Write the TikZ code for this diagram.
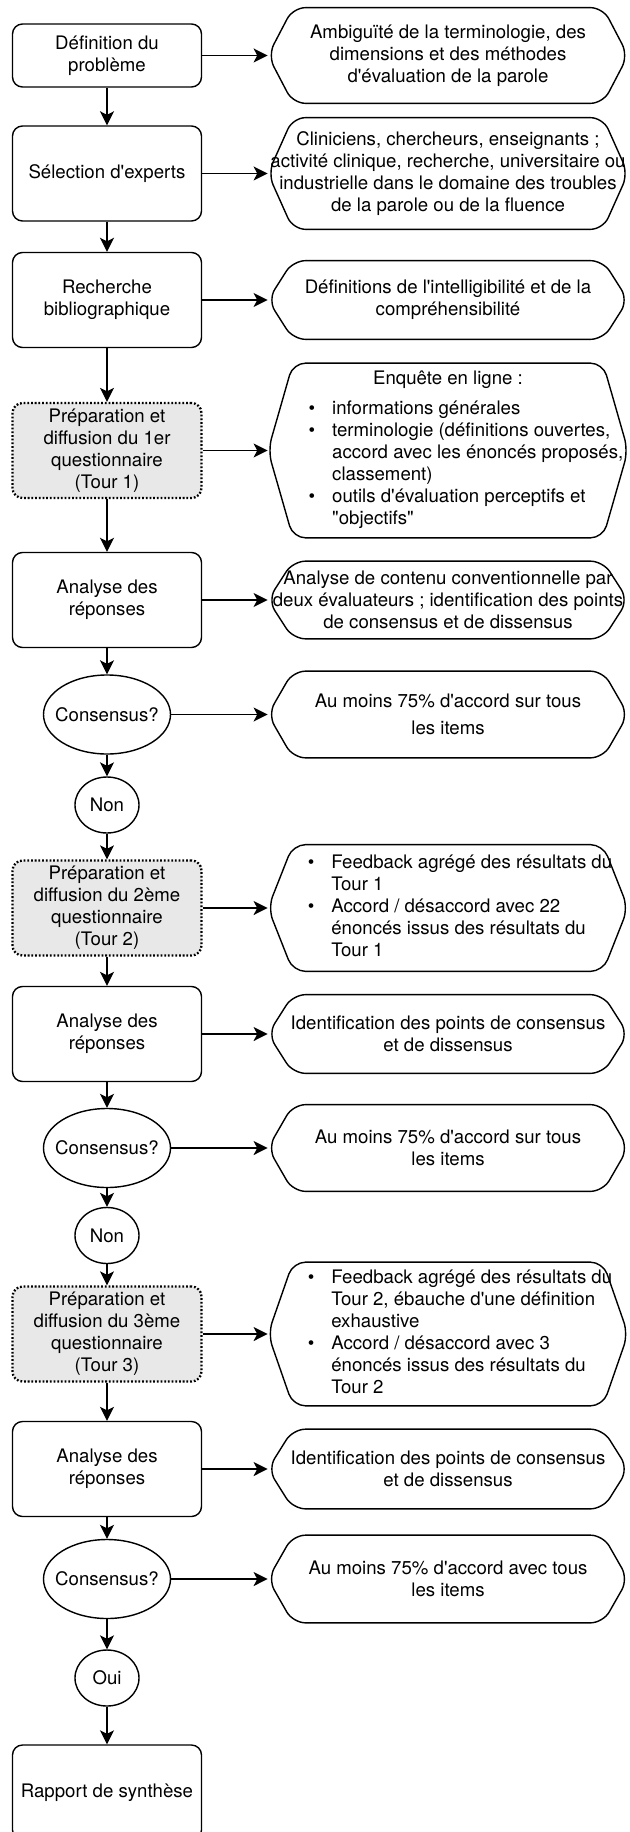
\documentclass[tikz,border=0pt]{standalone}
\usepackage{fontspec}
\setmainfont{TeX Gyre Heros}[Ligatures=TeXOff]
\usetikzlibrary{arrows.meta,shapes.geometric}
\newcommand{\mytxt}{\fontsize{10.6}{12.5}\selectfont}
\tikzset{
  box/.style={draw, rounded corners=0.2cm, align=center, minimum width=3.78cm, minimum height=1.9cm, inner sep=0pt, font=\mytxt, line width=0.8pt},
  kprep/.style={box, fill=black!9, line width=1.3pt, dash pattern=on 1pt off 1.1pt},
  kcheck/.style={ellipse, draw, minimum width=2.54cm, minimum height=1.58cm, inner xsep=-0.3cm, inner ysep=0pt, font=\mytxt, line width=0.8pt},
  kreply/.style={ellipse, draw, minimum width=1.28cm, minimum height=1.12cm, inner sep=0pt, font=\mytxt, line width=0.8pt},
  kinfo/.style={minimum width=7.2cm, inner sep=0pt, align=center, font=\mytxt},
  kframe/.style={draw, rounded corners=0.25cm, line width=0.8pt},
  flow/.style={-{Stealth[length=0.28cm,width=0.28cm,inset=0.07cm]}, line width=0.8pt},
}

\begin{document}
\begin{tikzpicture}
    \useasboundingbox (0,0) rectangle (12.58,-36.64);
    \clip (0,0) rectangle (12.58,-36.64);
    \node[box, minimum height=1.26cm] (d1) at (2.14,-1.11) {Définition du\\problème};
    \node[box] (d2) at (2.14,-3.47) {Sélection d'experts};
    \node[box] (d3) at (2.14,-6.00) {Recherche\\bibliographique};
    \node[kprep] (d4) at (2.14,-9.01) {Préparation et\\diffusion du 1er\\questionnaire\\(Tour 1)};
    \node[box] (d5) at (2.14,-12.00) {Analyse des\\réponses};
    \node[kcheck] (c1) at (2.14,-14.29) {Consensus?};
    \node[kreply] (n1) at (2.14,-16.10) {Non};
    \node[kprep] (d7) at (2.14,-18.16) {Préparation et\\diffusion du 2ème\\questionnaire\\(Tour 2)};
    \node[box] (d8) at (2.14,-20.68) {Analyse des\\réponses};
    \node[kcheck] (c2) at (2.14,-22.96) {Consensus?};
    \node[kreply] (n2) at (2.14,-24.71) {Non};
    \node[kprep] (d10) at (2.14,-26.68) {Préparation et\\diffusion du 3ème\\questionnaire\\(Tour 3)};
    \node[box] (d11) at (2.14,-29.38) {Analyse des\\réponses};
    \node[kcheck] (c3) at (2.14,-31.58) {Consensus?};
    \node[kreply] (o3) at (2.14,-33.56) {Oui};
    \node[box] (rap) at (2.14,-35.85) {Rapport de synthèse};

    \node[kinfo, minimum height=1.9cm] (r1) at (8.96,-1.11) {Ambiguïté de la terminologie, des\\dimensions et des méthodes\\d'évaluation de la parole};
    \node[kinfo, minimum height=2.22cm] (r2) at (8.96,-3.47) {Cliniciens, chercheurs, enseignants ;\\activité clinique, recherche, universitaire ou\\industrielle dans le domaine des troubles\\de la parole ou de la fluence};
    \node[kinfo, minimum height=1.56cm] (r3) at (8.96,-6.00) {Définitions de l'intelligibilité et de la\\compréhensibilité};
    \node[kinfo, minimum height=3.48cm] (r4) at (8.96,-9.01) {\begin{tabular}{@{\hspace{0.72cm}}c@{\hspace{0.34cm}}l@{}}
      \multicolumn{2}{c}{Enquête en ligne :}\\[0.16cm]
      • & informations générales\\
      • & terminologie (définitions ouvertes,\\
        & accord avec les énoncés proposés,\\
        & classement)\\
      • & outils d'évaluation perceptifs et\\
        & "objectifs"
    \end{tabular}};
    \node[kinfo, minimum height=1.54cm] (r5) at (8.96,-12.00) {Analyse de contenu conventionnelle par\\deux évaluateurs ; identification des points\\de consensus et de dissensus};
    \node[kinfo, minimum height=1.72cm] (r6) at (8.96,-14.29) {Au moins 75\% d'accord sur tous\\[0.09cm]les items};
    \node[kinfo, minimum height=2.52cm] (r7) at (8.96,-18.16) {\begin{tabular}{@{\hspace{0.48cm}}c@{\hspace{0.34cm}}l@{}}
      • & Feedback agrégé des résultats du\\
        & Tour 1\\
      • & Accord / désaccord avec 22\\
        & énoncés issus des résultats du\\
        & Tour 1
    \end{tabular}};
    \node[kinfo, minimum height=1.56cm] (r8) at (8.96,-20.68) {Identification des points de consensus\\et de dissensus};
    \node[kinfo, minimum height=1.72cm] (r9) at (8.96,-22.96) {Au moins 75\% d'accord sur tous\\les items};
    \node[kinfo, minimum height=2.86cm] (r10) at (8.96,-26.68) {\begin{tabular}{@{\hspace{0.48cm}}c@{\hspace{0.34cm}}l@{}}
      • & Feedback agrégé des résultats du\\
        & Tour 2, ébauche d'une définition\\
        & exhaustive\\
      • & Accord / désaccord avec 3\\
        & énoncés issus des résultats du\\
        & Tour 2
    \end{tabular}};
    \node[kinfo, minimum height=1.58cm] (r11) at (8.96,-29.38) {Identification des points de consensus\\et de dissensus};
    \node[kinfo, minimum height=1.74cm] (r12) at (8.96,-31.58) {Au moins 75\% d'accord avec tous\\les items};

    \foreach \i in {1,...,12}
      \draw[kframe] ([xshift=-3.1cm]r\i.north) -- ([xshift=3.1cm]r\i.north) -- ([xshift=3.6cm]r\i.center)
        -- ([xshift=3.1cm]r\i.south) -- ([xshift=-3.1cm]r\i.south) -- ([xshift=-3.6cm]r\i.center) -- cycle;

    \foreach \a/\b in {d1/d2,d2/d3,d3/d4,d4/d5,d5/c1,c1/n1,n1/d7,d7/d8,d8/c2,c2/n2,n2/d10,d10/d11,d11/c3,c3/o3,o3/rap}
      \draw[flow] (\a) -- (\b);
    \foreach \a/\b in {d1/r1,d2/r2,d3/r3,d4/r4,d5/r5,c1/r6,d7/r7,d8/r8,c2/r9,d10/r10,d11/r11,c3/r12}
      \draw[flow] (\a) -- (\b);
  \end{tikzpicture}
\end{document}
